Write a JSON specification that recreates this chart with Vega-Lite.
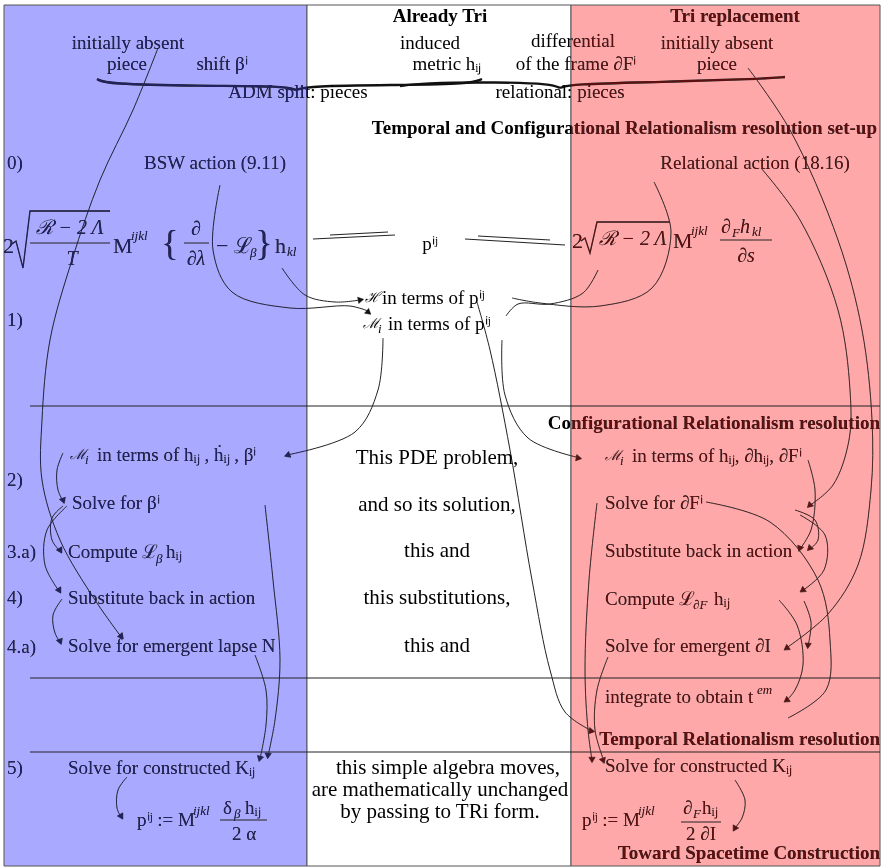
{
 "$schema": "https://vega.github.io/schema/vega-lite/v6.json",
 "width": 882, "height": 868, "padding": 0,
 "autosize": {"type": "fit", "contains": "padding"},
 "background": "white",
 "config": {"view": {"stroke": null}},
 "datasets": {
  "panels": [
   {"x": 4, "x2": 307, "y": 5, "y2": 866, "p": "b"},
   {"x": 307, "x2": 571, "y": 5, "y2": 866, "p": "w"},
   {"x": 571, "x2": 880, "y": 5, "y2": 866, "p": "r"}
  ],
  "overlays": [
   {"x": 4, "x2": 307, "y": 5, "y2": 866, "p": "ob"},
   {"x": 571, "x2": 880, "y": 5, "y2": 866, "p": "or"}
  ],
  "rules": [
   {"x": 30, "x2": 880, "y": 406, "y2": 406},
   {"x": 30, "x2": 880, "y": 678, "y2": 678},
   {"x": 30, "x2": 880, "y": 752, "y2": 752},
   {"x": 313, "x2": 395, "y": 239, "y2": 235},
   {"x": 330, "x2": 388, "y": 235, "y2": 232},
   {"x": 465, "x2": 565, "y": 239, "y2": 245},
   {"x": 478, "x2": 550, "y": 236, "y2": 240},
   {"x": 30, "x2": 110, "y": 243, "y2": 243},
   {"x": 184, "x2": 209, "y": 243, "y2": 243},
   {"x": 720, "x2": 772, "y": 240, "y2": 240},
   {"x": 220, "x2": 267, "y": 820, "y2": 820},
   {"x": 681, "x2": 721, "y": 822, "y2": 822}
  ],
  "radicals": [
   {"k": "a", "i": 0, "x": 12, "y": 244}, {"k": "a", "i": 1, "x": 16, "y": 241}, {"k": "a", "i": 2, "x": 23, "y": 268}, {"k": "a", "i": 3, "x": 30, "y": 211}, {"k": "a", "i": 4, "x": 110, "y": 211},
   {"k": "b", "i": 0, "x": 581, "y": 241}, {"k": "b", "i": 1, "x": 585, "y": 238}, {"k": "b", "i": 2, "x": 590, "y": 253}, {"k": "b", "i": 3, "x": 597, "y": 222}, {"k": "b", "i": 4, "x": 670, "y": 222}
  ],
  "braces": [
   {"k": "A", "i": 0, "x": 97, "y": 79}, {"k": "A", "i": 1, "x": 106, "y": 84}, {"k": "A", "i": 2, "x": 200, "y": 86}, {"k": "A", "i": 3, "x": 285, "y": 86}, {"k": "A", "i": 4, "x": 296, "y": 90},
   {"k": "B", "i": 0, "x": 296, "y": 90}, {"k": "B", "i": 1, "x": 308, "y": 86}, {"k": "B", "i": 2, "x": 400, "y": 85}, {"k": "B", "i": 3, "x": 470, "y": 84}, {"k": "B", "i": 4, "x": 482, "y": 79},
   {"k": "C", "i": 0, "x": 400, "y": 86}, {"k": "C", "i": 1, "x": 420, "y": 83}, {"k": "C", "i": 2, "x": 500, "y": 82}, {"k": "C", "i": 3, "x": 552, "y": 84}, {"k": "C", "i": 4, "x": 560, "y": 88},
   {"k": "D", "i": 0, "x": 560, "y": 88}, {"k": "D", "i": 1, "x": 570, "y": 84}, {"k": "D", "i": 2, "x": 660, "y": 82}, {"k": "D", "i": 3, "x": 760, "y": 79}, {"k": "D", "i": 4, "x": 785, "y": 77}
  ],
  "curves": [
   {"k": "LC1", "i": 0, "x": 220, "y": 185}, {"k": "LC1", "i": 1, "x": 213, "y": 250}, {"k": "LC1", "i": 2, "x": 232, "y": 292}, {"k": "LC1", "i": 3, "x": 290, "y": 308}, {"k": "LC1", "i": 4, "x": 350, "y": 306}, {"k": "LC1", "i": 5, "x": 368, "y": 311},
   {"k": "LC2", "i": 0, "x": 282, "y": 268}, {"k": "LC2", "i": 1, "x": 305, "y": 295}, {"k": "LC2", "i": 2, "x": 335, "y": 302}, {"k": "LC2", "i": 3, "x": 360, "y": 300},
   {"k": "RC1", "i": 0, "x": 654, "y": 182}, {"k": "RC1", "i": 1, "x": 671, "y": 232}, {"k": "RC1", "i": 2, "x": 652, "y": 288}, {"k": "RC1", "i": 3, "x": 600, "y": 306}, {"k": "RC1", "i": 4, "x": 540, "y": 303}, {"k": "RC1", "i": 5, "x": 512, "y": 298},
   {"k": "RC2", "i": 0, "x": 598, "y": 270}, {"k": "RC2", "i": 1, "x": 583, "y": 293}, {"k": "RC2", "i": 2, "x": 550, "y": 304}, {"k": "RC2", "i": 3, "x": 518, "y": 304}, {"k": "RC2", "i": 4, "x": 506, "y": 316},
   {"k": "M1", "i": 0, "x": 383, "y": 338}, {"k": "M1", "i": 1, "x": 378, "y": 390}, {"k": "M1", "i": 2, "x": 355, "y": 432}, {"k": "M1", "i": 3, "x": 287, "y": 455},
   {"k": "M2", "i": 0, "x": 502, "y": 340}, {"k": "M2", "i": 1, "x": 505, "y": 395}, {"k": "M2", "i": 2, "x": 528, "y": 438}, {"k": "M2", "i": 3, "x": 580, "y": 458},
   {"k": "M3", "i": 0, "x": 477, "y": 302}, {"k": "M3", "i": 1, "x": 490, "y": 350}, {"k": "M3", "i": 2, "x": 510, "y": 450}, {"k": "M3", "i": 3, "x": 532, "y": 580}, {"k": "M3", "i": 4, "x": 550, "y": 670}, {"k": "M3", "i": 5, "x": 565, "y": 712}, {"k": "M3", "i": 6, "x": 592, "y": 731},
   {"k": "SF", "i": 0, "x": 597, "y": 503}, {"k": "SF", "i": 1, "x": 589, "y": 580}, {"k": "SF", "i": 2, "x": 585, "y": 670}, {"k": "SF", "i": 3, "x": 588, "y": 730}, {"k": "SF", "i": 4, "x": 592, "y": 760},
   {"k": "SI", "i": 0, "x": 608, "y": 657}, {"k": "SI", "i": 1, "x": 597, "y": 690}, {"k": "SI", "i": 2, "x": 595, "y": 730}, {"k": "SI", "i": 3, "x": 604, "y": 761},
   {"k": "P", "i": 0, "x": 158, "y": 48}, {"k": "P", "i": 1, "x": 133, "y": 110}, {"k": "P", "i": 2, "x": 100, "y": 180}, {"k": "P", "i": 3, "x": 72, "y": 260}, {"k": "P", "i": 4, "x": 50, "y": 340}, {"k": "P", "i": 5, "x": 42, "y": 420}, {"k": "P", "i": 6, "x": 42, "y": 480}, {"k": "P", "i": 7, "x": 60, "y": 540}, {"k": "P", "i": 8, "x": 95, "y": 600}, {"k": "P", "i": 9, "x": 122, "y": 638},
   {"k": "B1", "i": 0, "x": 63, "y": 453}, {"k": "B1", "i": 1, "x": 57, "y": 470}, {"k": "B1", "i": 2, "x": 58, "y": 490}, {"k": "B1", "i": 3, "x": 63, "y": 501},
   {"k": "B2", "i": 0, "x": 63, "y": 506}, {"k": "B2", "i": 1, "x": 52, "y": 518}, {"k": "B2", "i": 2, "x": 52, "y": 540}, {"k": "B2", "i": 3, "x": 60, "y": 551},
   {"k": "B3", "i": 0, "x": 67, "y": 506}, {"k": "B3", "i": 1, "x": 47, "y": 530}, {"k": "B3", "i": 2, "x": 45, "y": 565}, {"k": "B3", "i": 3, "x": 59, "y": 591},
   {"k": "B4", "i": 0, "x": 62, "y": 599}, {"k": "B4", "i": 1, "x": 53, "y": 615}, {"k": "B4", "i": 2, "x": 55, "y": 633}, {"k": "B4", "i": 3, "x": 60, "y": 642},
   {"k": "B5", "i": 0, "x": 265, "y": 505}, {"k": "B5", "i": 1, "x": 273, "y": 580}, {"k": "B5", "i": 2, "x": 280, "y": 660}, {"k": "B5", "i": 3, "x": 275, "y": 720}, {"k": "B5", "i": 4, "x": 268, "y": 756},
   {"k": "B6", "i": 0, "x": 255, "y": 655}, {"k": "B6", "i": 1, "x": 266, "y": 690}, {"k": "B6", "i": 2, "x": 266, "y": 725}, {"k": "B6", "i": 3, "x": 260, "y": 759},
   {"k": "B7", "i": 0, "x": 127, "y": 777}, {"k": "B7", "i": 1, "x": 118, "y": 790}, {"k": "B7", "i": 2, "x": 117, "y": 808}, {"k": "B7", "i": 3, "x": 121, "y": 817},
   {"k": "R1", "i": 0, "x": 748, "y": 68}, {"k": "R1", "i": 1, "x": 790, "y": 130}, {"k": "R1", "i": 2, "x": 838, "y": 240}, {"k": "R1", "i": 3, "x": 862, "y": 330}, {"k": "R1", "i": 4, "x": 872, "y": 420}, {"k": "R1", "i": 5, "x": 871, "y": 490}, {"k": "R1", "i": 6, "x": 858, "y": 565}, {"k": "R1", "i": 7, "x": 828, "y": 614}, {"k": "R1", "i": 8, "x": 785, "y": 649},
   {"k": "R2", "i": 0, "x": 761, "y": 168}, {"k": "R2", "i": 1, "x": 800, "y": 220}, {"k": "R2", "i": 2, "x": 838, "y": 310}, {"k": "R2", "i": 3, "x": 850, "y": 390}, {"k": "R2", "i": 4, "x": 849, "y": 440}, {"k": "R2", "i": 5, "x": 833, "y": 485}, {"k": "R2", "i": 6, "x": 809, "y": 506},
   {"k": "RA", "i": 0, "x": 808, "y": 460}, {"k": "RA", "i": 1, "x": 815, "y": 490}, {"k": "RA", "i": 2, "x": 811, "y": 530}, {"k": "RA", "i": 3, "x": 800, "y": 549},
   {"k": "RB", "i": 0, "x": 795, "y": 510}, {"k": "RB", "i": 1, "x": 815, "y": 520}, {"k": "RB", "i": 2, "x": 818, "y": 540}, {"k": "RB", "i": 3, "x": 810, "y": 549},
   {"k": "RC", "i": 0, "x": 800, "y": 515}, {"k": "RC", "i": 1, "x": 825, "y": 535}, {"k": "RC", "i": 2, "x": 824, "y": 570}, {"k": "RC", "i": 3, "x": 802, "y": 591},
   {"k": "RD", "i": 0, "x": 706, "y": 502}, {"k": "RD", "i": 1, "x": 770, "y": 522}, {"k": "RD", "i": 2, "x": 818, "y": 580}, {"k": "RD", "i": 3, "x": 830, "y": 640}, {"k": "RD", "i": 4, "x": 826, "y": 690}, {"k": "RD", "i": 5, "x": 788, "y": 718},
   {"k": "RE", "i": 0, "x": 779, "y": 600}, {"k": "RE", "i": 1, "x": 797, "y": 625}, {"k": "RE", "i": 2, "x": 803, "y": 665}, {"k": "RE", "i": 3, "x": 795, "y": 690}, {"k": "RE", "i": 4, "x": 786, "y": 701},
   {"k": "RF", "i": 0, "x": 804, "y": 601}, {"k": "RF", "i": 1, "x": 811, "y": 622}, {"k": "RF", "i": 2, "x": 808, "y": 646},
   {"k": "RK", "i": 0, "x": 735, "y": 780}, {"k": "RK", "i": 1, "x": 745, "y": 800}, {"k": "RK", "i": 2, "x": 742, "y": 818}, {"k": "RK", "i": 3, "x": 734, "y": 829}
  ],
  "heads": [
   {"x": 360, "y": 300, "a": 80}, {"x": 368, "y": 312, "a": 130}, {"x": 288, "y": 455, "a": 250}, {"x": 578, "y": 458, "a": 100},
   {"x": 63, "y": 500, "a": 160}, {"x": 60, "y": 550, "a": 150}, {"x": 59, "y": 590, "a": 150}, {"x": 60, "y": 641, "a": 160},
   {"x": 121, "y": 636, "a": 140}, {"x": 260, "y": 758, "a": 195}, {"x": 268, "y": 755, "a": 185}, {"x": 121, "y": 816, "a": 150},
   {"x": 810, "y": 505, "a": 225}, {"x": 800, "y": 548, "a": 200}, {"x": 810, "y": 548, "a": 225}, {"x": 803, "y": 590, "a": 235},
   {"x": 787, "y": 648, "a": 235}, {"x": 808, "y": 645, "a": 185}, {"x": 787, "y": 700, "a": 235}, {"x": 591, "y": 731, "a": 100},
   {"x": 592, "y": 759, "a": 180}, {"x": 603, "y": 760, "a": 160}, {"x": 735, "y": 828, "a": 210}
  ],
  "texts": [
   {"t": "Already Tri", "x": 440, "y": 16, "r": "bc"},
   {"t": "Tri replacement", "x": 735, "y": 16, "r": "bc"},
   {"t": "initially absent", "x": 128, "y": 43, "r": "c"},
   {"t": "piece", "x": 127, "y": 64, "r": "c"},
   {"t": "shift  βⁱ", "x": 222, "y": 64, "r": "c"},
   {"t": "induced", "x": 430, "y": 43, "r": "c"},
   {"t": "metric hᵢⱼ", "x": 447, "y": 64, "r": "c"},
   {"t": "differential", "x": 573, "y": 41, "r": "c"},
   {"t": "of the frame ∂Fⁱ", "x": 576, "y": 64, "r": "c"},
   {"t": "initially absent", "x": 717, "y": 43, "r": "c"},
   {"t": "piece", "x": 717, "y": 64, "r": "c"},
   {"t": "ADM split: pieces", "x": 298, "y": 92, "r": "c"},
   {"t": "relational: pieces", "x": 560, "y": 92, "r": "c"},
   {"t": "BSW action (9.11)", "x": 215, "y": 163, "r": "c"},
   {"t": "Relational action (18.16)", "x": 755, "y": 163, "r": "c"},
   {"t": "pⁱʲ", "x": 430, "y": 244, "r": "c"},
   {"t": "This PDE problem,", "x": 437, "y": 458, "r": "cm"},
   {"t": "and so its solution,", "x": 437, "y": 505, "r": "cm"},
   {"t": "this and", "x": 437, "y": 551, "r": "cm"},
   {"t": "this substitutions,", "x": 437, "y": 598, "r": "cm"},
   {"t": "this and", "x": 437, "y": 646, "r": "cm"},
   {"t": "this simple algebra moves,", "x": 448, "y": 768, "r": "cm"},
   {"t": "are mathematically unchanged", "x": 440, "y": 790, "r": "cm"},
   {"t": "by passing to TRi form.", "x": 440, "y": 812, "r": "cm"},
   {"t": "2 α", "x": 244, "y": 834, "r": "c"},
   {"t": "2 ∂I", "x": 701, "y": 834, "r": "c"},
   {"t": "Temporal and Configurational Relationalism resolution set-up", "x": 877, "y": 128, "r": "br"},
   {"t": "Configurational Relationalism resolution", "x": 880, "y": 423, "r": "br"},
   {"t": "Temporal Relationalism resolution", "x": 880, "y": 739, "r": "br"},
   {"t": "Toward Spacetime Construction", "x": 880, "y": 853, "r": "br"},
   {"t": "0)", "x": 7, "y": 163, "r": "l"},
   {"t": "1)", "x": 7, "y": 320, "r": "l"},
   {"t": "2)", "x": 7, "y": 480, "r": "l"},
   {"t": "3.a)", "x": 7, "y": 552, "r": "l"},
   {"t": "4)", "x": 7, "y": 598, "r": "l"},
   {"t": "4.a)", "x": 7, "y": 647, "r": "l"},
   {"t": "5)", "x": 7, "y": 768, "r": "l"},
   {"t": "in terms of pⁱʲ", "x": 382, "y": 298, "r": "l"},
   {"t": "in terms of pⁱʲ", "x": 388, "y": 324, "r": "l"},
   {"t": "in terms of hᵢⱼ , ḣᵢⱼ , βⁱ", "x": 97, "y": 455, "r": "l"},
   {"t": "Solve for βⁱ", "x": 72, "y": 503, "r": "l"},
   {"t": "Compute ℒ", "x": 68, "y": 552, "r": "l"},
   {"t": "hᵢⱼ", "x": 166, "y": 552, "r": "l"},
   {"t": "Substitute back in action", "x": 68, "y": 598, "r": "l"},
   {"t": "Solve for emergent lapse N", "x": 68, "y": 646, "r": "l"},
   {"t": "Solve for constructed  Kᵢⱼ", "x": 68, "y": 768, "r": "l"},
   {"t": "in terms of hᵢⱼ, ∂hᵢⱼ, ∂Fⁱ", "x": 632, "y": 456, "r": "l"},
   {"t": "Solve for ∂Fⁱ", "x": 605, "y": 503, "r": "l"},
   {"t": "Substitute back in action", "x": 605, "y": 551, "r": "l"},
   {"t": "Compute ℒ", "x": 605, "y": 599, "r": "l"},
   {"t": "hᵢⱼ", "x": 714, "y": 599, "r": "l"},
   {"t": "Solve for emergent  ∂I", "x": 605, "y": 646, "r": "l"},
   {"t": "integrate to obtain t", "x": 605, "y": 697, "r": "l"},
   {"t": "Solve for constructed  Kᵢⱼ", "x": 605, "y": 766, "r": "l"},
   {"t": "pⁱʲ := M", "x": 137, "y": 820, "r": "l"},
   {"t": "pⁱʲ := M", "x": 582, "y": 820, "r": "l"},
   {"t": "δ", "x": 223, "y": 808, "r": "l"},
   {"t": "hᵢⱼ", "x": 245, "y": 808, "r": "l"},
   {"t": "∂", "x": 683, "y": 808, "r": "l"},
   {"t": "hᵢⱼ", "x": 702, "y": 808, "r": "l"},
   {"t": "ℋ", "x": 365, "y": 298, "r": "scr"},
   {"t": "ℳ", "x": 363, "y": 324, "r": "scr"},
   {"t": "ℳ", "x": 70, "y": 455, "r": "scr"},
   {"t": "ℳ", "x": 605, "y": 456, "r": "scr"},
   {"t": "i", "x": 378, "y": 329, "r": "sm"},
   {"t": "i", "x": 85, "y": 460, "r": "sm"},
   {"t": "i", "x": 620, "y": 461, "r": "sm"},
   {"t": "2", "x": 3, "y": 246, "r": "eq"},
   {"t": "M", "x": 113, "y": 246, "r": "eq"},
   {"t": "− ℒ", "x": 216, "y": 246, "r": "eq"},
   {"t": "h", "x": 275, "y": 246, "r": "eq"},
   {"t": "2", "x": 572, "y": 241, "r": "eq"},
   {"t": "M", "x": 673, "y": 241, "r": "eq"},
   {"t": "ℛ − 2 Λ", "x": 70, "y": 228, "r": "eqc"},
   {"t": "T", "x": 72, "y": 259, "r": "eqc"},
   {"t": "∂", "x": 196, "y": 229, "r": "eqc"},
   {"t": "∂λ", "x": 196, "y": 259, "r": "eqc"},
   {"t": "ℛ − 2 Λ", "x": 633, "y": 239, "r": "eqc"},
   {"t": "∂", "x": 726, "y": 227, "r": "eqc"},
   {"t": "h", "x": 745, "y": 227, "r": "eqc"},
   {"t": "∂s", "x": 746, "y": 256, "r": "eqc"},
   {"t": "{", "x": 170, "y": 244, "r": "big"},
   {"t": "}", "x": 264, "y": 244, "r": "big"},
   {"t": "ijkl", "x": 131, "y": 236, "r": "sm"},
   {"t": "β", "x": 250, "y": 253, "r": "sm"},
   {"t": "kl", "x": 287, "y": 252, "r": "sm"},
   {"t": "ijkl", "x": 691, "y": 231, "r": "sm"},
   {"t": "F", "x": 732, "y": 233, "r": "sm"},
   {"t": "kl", "x": 752, "y": 232, "r": "sm"},
   {"t": "β", "x": 156, "y": 559, "r": "sm"},
   {"t": "∂F", "x": 693, "y": 605, "r": "sm"},
   {"t": "em", "x": 757, "y": 690, "r": "sm"},
   {"t": "ijkl", "x": 193, "y": 811, "r": "sm"},
   {"t": "ijkl", "x": 638, "y": 811, "r": "sm"},
   {"t": "β⃗", "x": 234, "y": 814, "r": "sm"},
   {"t": "F", "x": 693, "y": 814, "r": "sm"}
  ]
 },
 "layer": [
  {
   "data": {"name": "panels"},
   "mark": {"type": "rect", "stroke": "#555", "strokeWidth": 1},
   "encoding": {
    "x": {"field": "x", "type": "quantitative", "scale": {"domain": [0, 882], "nice": false, "zero": false}, "axis": null},
    "x2": {"field": "x2"},
    "y": {"field": "y", "type": "quantitative", "scale": {"domain": [0, 868], "reverse": true, "nice": false, "zero": false}, "axis": null},
    "y2": {"field": "y2"},
    "color": {"field": "p", "type": "nominal", "legend": null, "scale": {"domain": ["b", "w", "r", "ob", "or"], "range": ["#a9a9ff", "#ffffff", "#ffa8aa", "#22225c", "#5c1010"]}}
   }
  },
  {
   "data": {"name": "rules"},
   "mark": {"type": "rule", "color": "#222", "strokeWidth": 1},
   "encoding": {
    "x": {"field": "x", "type": "quantitative", "axis": null}, "x2": {"field": "x2"},
    "y": {"field": "y", "type": "quantitative", "axis": null}, "y2": {"field": "y2"}
   }
  },
  {
   "data": {"name": "radicals"},
   "mark": {"type": "line", "color": "#111", "strokeWidth": 1.3},
   "encoding": {
    "x": {"field": "x", "type": "quantitative", "axis": null},
    "y": {"field": "y", "type": "quantitative", "axis": null},
    "detail": {"field": "k"}, "order": {"field": "i"}
   }
  },
  {
   "data": {"name": "braces"},
   "mark": {"type": "line", "color": "#111", "strokeWidth": 2.4, "interpolate": "basis"},
   "encoding": {
    "x": {"field": "x", "type": "quantitative", "axis": null},
    "y": {"field": "y", "type": "quantitative", "axis": null},
    "detail": {"field": "k"}, "order": {"field": "i"}
   }
  },
  {
   "data": {"name": "curves"},
   "mark": {"type": "line", "color": "#222", "strokeWidth": 1, "interpolate": "catmull-rom"},
   "encoding": {
    "x": {"field": "x", "type": "quantitative", "axis": null},
    "y": {"field": "y", "type": "quantitative", "axis": null},
    "detail": {"field": "k"}, "order": {"field": "i"}
   }
  },
  {
   "data": {"name": "heads"},
   "mark": {"type": "point", "shape": "triangle", "filled": true, "fill": "#111", "stroke": "#111", "strokeWidth": 0.5, "size": 40, "opacity": 1},
   "encoding": {
    "x": {"field": "x", "type": "quantitative", "axis": null},
    "y": {"field": "y", "type": "quantitative", "axis": null},
    "angle": {"field": "a", "type": "quantitative", "scale": null}
   }
  },
  {
   "data": {"name": "texts"},
   "transform": [{"filter": "datum.r === 'c'"}],
   "mark": {"type": "text", "font": "Liberation Serif", "fontSize": 19, "align": "center", "baseline": "middle", "color": "#000"},
   "encoding": {"x": {"field": "x", "type": "quantitative", "axis": null}, "y": {"field": "y", "type": "quantitative", "axis": null}, "text": {"field": "t"}}
  },
  {
   "data": {"name": "texts"},
   "transform": [{"filter": "datum.r === 'cm'"}],
   "mark": {"type": "text", "font": "Liberation Serif", "fontSize": 21, "align": "center", "baseline": "middle", "color": "#000"},
   "encoding": {"x": {"field": "x", "type": "quantitative", "axis": null}, "y": {"field": "y", "type": "quantitative", "axis": null}, "text": {"field": "t"}}
  },
  {
   "data": {"name": "texts"},
   "transform": [{"filter": "datum.r === 'l'"}],
   "mark": {"type": "text", "font": "Liberation Serif", "fontSize": 19, "align": "left", "baseline": "middle", "color": "#000"},
   "encoding": {"x": {"field": "x", "type": "quantitative", "axis": null}, "y": {"field": "y", "type": "quantitative", "axis": null}, "text": {"field": "t"}}
  },
  {
   "data": {"name": "texts"},
   "transform": [{"filter": "datum.r === 'bc'"}],
   "mark": {"type": "text", "font": "Liberation Serif", "fontSize": 19, "fontWeight": "bold", "align": "center", "baseline": "middle", "color": "#000"},
   "encoding": {"x": {"field": "x", "type": "quantitative", "axis": null}, "y": {"field": "y", "type": "quantitative", "axis": null}, "text": {"field": "t"}}
  },
  {
   "data": {"name": "texts"},
   "transform": [{"filter": "datum.r === 'br'"}],
   "mark": {"type": "text", "font": "Liberation Serif", "fontSize": 19, "fontWeight": "bold", "align": "right", "baseline": "middle", "color": "#000"},
   "encoding": {"x": {"field": "x", "type": "quantitative", "axis": null}, "y": {"field": "y", "type": "quantitative", "axis": null}, "text": {"field": "t"}}
  },
  {
   "data": {"name": "texts"},
   "transform": [{"filter": "datum.r === 'scr'"}],
   "mark": {"type": "text", "font": "DejaVu Serif", "fontSize": 14, "fontStyle": "italic", "align": "left", "baseline": "middle", "color": "#000"},
   "encoding": {"x": {"field": "x", "type": "quantitative", "axis": null}, "y": {"field": "y", "type": "quantitative", "axis": null}, "text": {"field": "t"}}
  },
  {
   "data": {"name": "texts"},
   "transform": [{"filter": "datum.r === 'eq'"}],
   "mark": {"type": "text", "font": "Liberation Serif", "fontSize": 22, "align": "left", "baseline": "middle", "color": "#000"},
   "encoding": {"x": {"field": "x", "type": "quantitative", "axis": null}, "y": {"field": "y", "type": "quantitative", "axis": null}, "text": {"field": "t"}}
  },
  {
   "data": {"name": "texts"},
   "transform": [{"filter": "datum.r === 'eqc'"}],
   "mark": {"type": "text", "font": "Liberation Serif", "fontSize": 20, "fontStyle": "italic", "align": "center", "baseline": "middle", "color": "#000"},
   "encoding": {"x": {"field": "x", "type": "quantitative", "axis": null}, "y": {"field": "y", "type": "quantitative", "axis": null}, "text": {"field": "t"}}
  },
  {
   "data": {"name": "texts"},
   "transform": [{"filter": "datum.r === 'big'"}],
   "mark": {"type": "text", "font": "Liberation Serif", "fontSize": 36, "align": "center", "baseline": "middle", "color": "#000"},
   "encoding": {"x": {"field": "x", "type": "quantitative", "axis": null}, "y": {"field": "y", "type": "quantitative", "axis": null}, "text": {"field": "t"}}
  },
  {
   "data": {"name": "texts"},
   "transform": [{"filter": "datum.r === 'sm'"}],
   "mark": {"type": "text", "font": "Liberation Serif", "fontSize": 13, "fontStyle": "italic", "align": "left", "baseline": "middle", "color": "#000"},
   "encoding": {"x": {"field": "x", "type": "quantitative", "axis": null}, "y": {"field": "y", "type": "quantitative", "axis": null}, "text": {"field": "t"}}
  },
  {
   "data": {"name": "overlays"},
   "mark": {"type": "rect", "blend": "lighten"},
   "encoding": {
    "x": {"field": "x", "type": "quantitative", "axis": null}, "x2": {"field": "x2"},
    "y": {"field": "y", "type": "quantitative", "axis": null}, "y2": {"field": "y2"},
    "color": {"field": "p", "type": "nominal", "legend": null, "scale": {"domain": ["b", "w", "r", "ob", "or"], "range": ["#a9a9ff", "#ffffff", "#ffa8aa", "#22225c", "#5c1010"]}}
   }
  }
 ]
}
